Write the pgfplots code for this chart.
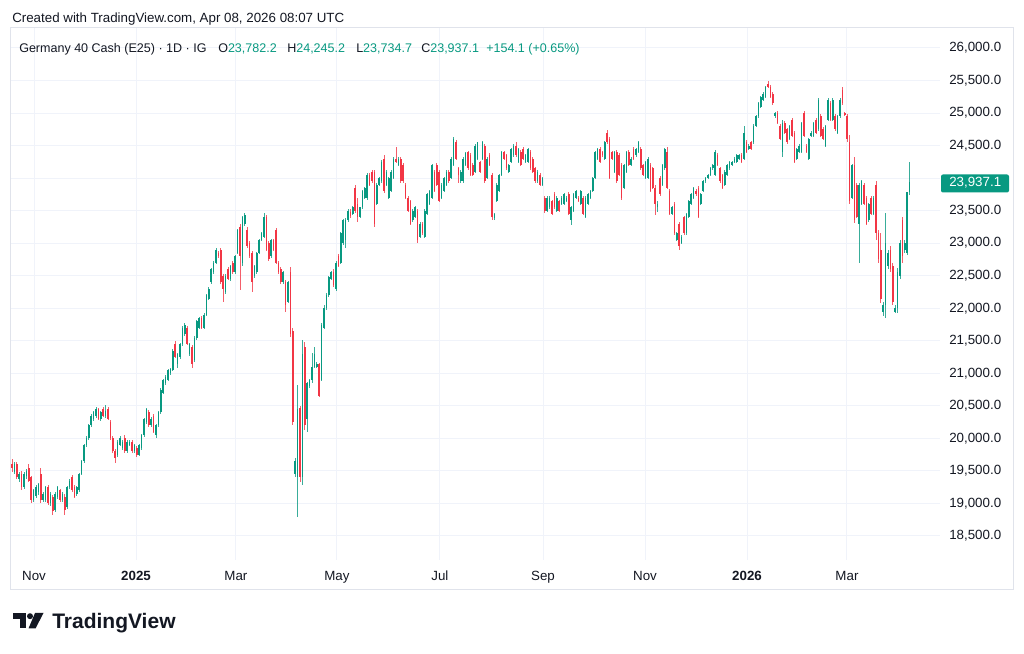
\documentclass[border=0pt]{standalone}
\usepackage{pgfplots}
\pgfplotsset{compat=1.18}
\usepackage{pgfplotstable}
\usepackage{fontspec}
\setmainfont{Liberation Sans}
\definecolor{upc}{HTML}{089981}
\definecolor{dnc}{HTML}{F23645}
\definecolor{txt}{HTML}{131722}
\definecolor{gridc}{HTML}{F0F3FA}
\definecolor{framec}{HTML}{E0E3EB}

\pgfplotstableread{
i O H L C
0 19600 19680 19480 19550
1 19480 19640 19450 19600
2 19600 19630 19380 19400
3 19380 19480 19330 19450
4 19450 19500 19200 19250
5 19250 19480 19220 19450
6 19420 19530 19380 19500
7 19550 19600 19330 19350
8 19400 19420 19000 19050
9 19060 19220 19020 19200
10 19120 19280 19080 19250
11 19170 19320 19130 19300
12 19450 19550 19000 19050
13 19060 19170 19020 19150
14 19060 19270 19030 19250
15 19250 19280 18980 19000
16 19000 19170 18960 19150
17 19100 19130 18820 18880
18 18900 19170 18870 19150
19 19100 19270 19070 19250
20 19200 19230 19020 19050
21 19050 19170 19020 19150
22 19100 19140 18820 18900
23 18950 19270 18920 19250
24 19250 19380 19220 19350
25 19400 19430 19180 19200
26 19250 19280 19080 19100
27 19150 19270 19120 19250
28 19200 19470 19180 19450
29 19450 19670 19430 19650
30 19650 19910 19620 19900
31 19900 20030 19870 20000
32 20000 20220 19980 20200
33 20200 20370 20170 20350
34 20300 20420 20270 20400
35 20350 20480 20320 20450
36 20450 20470 20280 20300
37 20300 20420 20270 20400
38 20450 20480 20330 20350
39 20350 20510 20320 20420
40 20450 20480 20280 20300
41 20250 20280 19980 20000
42 20000 20030 19780 19800
43 19800 19830 19620 19700
44 19750 19970 19720 19950
45 19900 20030 19880 20000
46 19850 19970 19820 19950
47 20000 20050 19780 19800
48 19800 19970 19770 19950
49 19900 19970 19880 19950
50 19950 19980 19770 19800
51 19800 19920 19780 19900
52 19850 19880 19720 19750
53 19750 19920 19730 19900
54 19850 20070 19820 20050
55 20050 20320 20020 20300
56 20250 20470 20220 20450
57 20400 20430 20170 20200
58 20200 20330 20170 20300
59 20350 20380 20080 20100
60 20050 20220 20000 20200
61 20200 20420 20170 20400
62 20400 20770 20380 20750
63 20700 20920 20680 20900
64 20850 20970 20820 20950
65 20900 21070 20880 21050
66 21000 21080 20980 21060
67 21050 21370 21030 21350
68 21450 21500 21230 21250
69 21150 21320 21080 21300
70 21250 21470 21220 21450
71 21450 21720 21420 21700
72 21600 21770 21570 21750
73 21700 21730 21430 21450
74 21300 21470 21270 21450
75 21400 21430 21080 21150
76 21200 21570 21170 21550
77 21550 21820 21520 21800
78 21700 21870 21680 21850
79 21850 21880 21680 21700
80 21700 21920 21680 21900
81 21900 22220 21880 22200
82 22150 22320 22120 22300
83 22400 22620 22380 22600
84 22550 22720 22530 22700
85 22700 22920 22680 22900
86 22850 22880 22780 22800
87 22900 22930 22380 22400
88 22500 22530 22100 22300
89 22250 22520 22220 22500
90 22600 22630 22430 22450
91 22450 22670 22420 22650
92 22700 22730 22530 22550
93 22550 22820 22520 22800
94 22850 23220 22830 23200
95 23250 23300 22280 22800
96 22700 23420 22650 23400
97 23300 23460 23270 23430
98 23200 23250 22930 22950
99 23000 23030 22780 22800
100 22850 22880 22250 22400
101 22500 22670 22470 22650
102 22550 22870 22530 22850
103 22850 23070 22830 23050
104 23050 23170 23030 23150
105 23100 23460 23080 23400
106 23400 23430 22880 22900
107 23000 23030 22730 22750
108 22800 23070 22780 23050
109 23050 23070 22880 22900
110 23200 23230 22680 22700
111 22700 22730 22530 22550
112 22600 22630 22380 22400
113 22400 22570 22380 22550
114 22400 22430 21950 22050
115 22100 22420 22080 22400
116 22550 22630 21560 21600
117 21650 21700 20200 20250
118 19450 19700 19400 19650
119 19400 20820 18790 20450
120 20470 20500 19330 19400
121 19400 21510 19290 21300
122 21400 21480 20130 20200
123 20300 20870 20100 20850
124 20800 20920 20780 20900
125 20900 21310 20850 21100
126 21100 21400 21080 21300
127 21100 21180 21080 21150
128 21150 21160 20640 20650
129 20900 21770 20880 21750
130 21700 22050 21680 22000
131 22000 22230 21980 22200
132 22200 22500 22180 22480
133 22450 22580 22430 22550
134 22550 22600 22330 22350
135 22300 22720 22260 22700
136 22800 22830 22630 22650
137 22700 23170 22680 23150
138 23000 23370 22980 23350
139 23050 23390 22930 23350
140 23350 23520 23330 23500
141 23480 23530 23380 23420
142 23450 23570 23430 23550
143 23850 23900 23470 23500
144 23600 23700 23330 23400
145 23400 23560 23380 23550
146 23550 23820 23520 23800
147 23700 23870 23680 23850
148 23700 24080 23660 24050
149 24050 24080 23880 23900
150 24100 24130 23930 23950
151 24100 24130 23250 23300
152 23600 23920 23580 23900
153 23900 24020 23880 24000
154 23950 24280 23930 24250
155 24300 24360 23770 23800
156 23900 24120 23880 24100
157 23700 24020 23680 24000
158 23800 24120 23780 24100
159 24000 24320 23980 24300
160 24300 24480 24230 24250
161 24200 24320 24180 24300
162 24300 24330 23930 23950
163 24200 24230 23930 23950
164 23900 23930 23680 23700
165 23700 23720 23480 23500
166 23650 23670 23280 23300
167 23350 23520 23330 23500
168 23400 23570 23380 23550
169 23500 23530 23000 23050
170 23100 23320 23080 23300
171 23300 23330 23130 23150
172 23100 23520 23080 23500
173 23450 23770 23430 23750
174 23600 23820 23580 23800
175 23700 24220 23680 24200
176 24100 24130 23780 23800
177 24200 24230 23880 23900
178 24100 24130 23630 23650
179 23700 23920 23680 23900
180 23800 24020 23780 24000
181 23900 24120 23880 24100
182 24100 24130 23930 23950
183 24000 24320 23980 24300
184 24200 24630 24180 24600
185 24550 24590 24280 24300
186 24150 24170 23920 24050
187 23950 24120 23920 24100
188 23950 24320 23930 24300
189 24200 24400 24180 24380
190 24400 24420 24130 24150
191 24350 24380 24030 24050
192 24200 24230 24030 24050
193 24100 24520 24080 24500
194 24300 24560 24280 24550
195 24250 24270 24080 24100
196 24300 24570 24280 24550
197 24500 24530 23930 23950
198 24000 24320 23980 24300
199 24350 24380 24180 24200
200 24050 24080 23360 23400
201 23380 23470 23360 23450
202 23650 23920 23630 23900
203 23800 24070 23780 24050
204 24050 24420 24030 24400
205 24400 24420 24280 24300
206 24350 24370 24130 24150
207 24100 24220 24080 24200
208 24250 24470 24230 24450
209 24350 24520 24330 24500
210 24500 24550 24330 24350
211 24250 24470 24230 24450
212 24400 24430 24180 24200
213 24450 24480 24280 24300
214 24250 24370 24230 24350
215 24250 24470 24230 24450
216 24400 24430 24130 24150
217 24300 24330 24080 24100
218 24150 24170 23930 23950
219 23950 24120 23930 24100
220 24050 24080 23880 23900
221 23900 24020 23880 24000
222 23700 23730 23460 23500
223 23500 23720 23480 23700
224 23550 23720 23530 23700
225 23650 23670 23430 23450
226 23750 23780 23530 23550
227 23500 23720 23480 23700
228 23650 23670 23480 23500
229 23600 23720 23580 23700
230 23600 23770 23580 23750
231 23650 23720 23630 23700
232 23750 23780 23430 23450
233 23350 23570 23280 23550
234 23500 23770 23480 23750
235 23700 23820 23680 23800
236 23700 23730 23630 23650
237 23600 23820 23580 23800
238 23700 23730 23430 23450
239 23400 23720 23380 23700
240 23600 23770 23580 23750
241 23700 23820 23680 23800
242 23800 24020 23780 24000
243 24000 24420 23980 24400
244 24300 24470 24280 24450
245 24450 24480 24230 24250
246 24400 24420 24330 24350
247 24300 24570 24280 24550
248 24700 24740 24530 24550
249 24600 24630 23980 24000
250 24400 24420 24280 24300
251 24100 24420 24080 24400
252 24400 24430 23930 23950
253 24350 24380 24030 24050
254 24200 24230 23660 23700
255 23850 24220 23830 24200
256 24100 24420 24080 24400
257 24400 24430 24180 24200
258 24200 24320 24180 24300
259 24450 24480 24280 24300
260 24350 24470 24330 24450
261 24400 24570 24380 24550
262 24450 24480 24130 24150
263 24200 24220 24030 24050
264 24000 24270 23980 24250
265 24000 24320 23980 24300
266 24200 24230 23780 23800
267 24150 24170 23830 23850
268 23850 23900 23430 23600
269 23550 23650 23480 23600
270 24000 24030 23730 23750
271 23900 24220 23880 24200
272 24150 24470 24130 24450
273 24400 24480 23830 23850
274 23800 23830 23430 23450
275 23450 23570 23430 23550
276 23600 23630 23130 23150
277 23050 23170 23030 23150
278 23300 23330 22900 22950
279 23000 23120 22980 23100
280 23400 23420 23120 23150
281 23150 23470 23130 23450
282 23400 23670 23380 23650
283 23600 23770 23580 23750
284 23700 23870 23680 23850
285 23800 23830 23730 23750
286 23850 23880 23380 23400
287 23600 23770 23580 23750
288 23800 23970 23780 23950
289 23950 24020 23930 24000
290 24000 24070 23980 24050
291 24050 24170 24030 24150
292 24150 24220 24130 24200
293 24050 24430 24030 24400
294 24350 24380 24180 24200
295 24150 24170 23930 23950
296 24050 24070 23830 23850
297 23900 24120 23880 24100
298 24050 24220 24030 24200
299 24150 24270 24130 24250
300 24200 24270 24180 24250
301 24250 24320 24230 24300
302 24250 24370 24230 24350
303 24300 24370 24280 24350
304 24350 24380 24230 24250
305 24300 24800 24280 24700
306 24550 24580 24380 24400
307 24450 24520 24430 24500
308 24550 24570 24430 24450
309 24550 24830 24530 24800
310 24800 24970 24780 24950
311 24950 25170 24930 25150
312 25100 25270 25080 25250
313 25200 25320 25180 25300
314 25250 25420 25230 25400
315 25450 25500 25380 25400
316 25400 25430 25230 25250
317 25300 25330 25130 25150
318 24950 25020 24930 25000
319 25000 25030 24830 24850
320 24800 24830 24580 24600
321 24400 24890 24320 24850
322 24850 24880 24680 24700
323 24750 24770 24530 24550
324 24600 24820 24580 24800
325 24900 24930 24630 24650
326 24700 24720 24230 24250
327 24300 24470 24280 24450
328 24400 24520 24380 24500
329 24400 24870 24380 24850
330 25000 25030 24630 24650
331 24500 24530 24380 24400
332 24300 24620 24280 24600
333 24650 24720 24630 24700
334 24650 24870 24630 24850
335 24900 24930 24680 24700
336 24750 25230 24730 25200
337 24950 24980 24630 24650
338 24750 24780 24580 24600
339 24500 24820 24480 24800
340 24900 25230 24880 25200
341 25150 25180 24880 24900
342 24900 25230 24880 25200
343 24950 24980 24730 24750
344 24700 24970 24680 24950
345 24950 25230 24930 25200
346 25350 25400 25130 25150
347 25000 25020 24960 24980
348 24950 24980 24550 24600
349 24550 24660 23600 23650
350 23700 24220 23680 24200
351 24200 24320 23310 23350
352 23900 23930 23380 23400
353 23300 23920 22700 23900
354 23600 23970 23580 23950
355 23900 23930 23580 23600
356 23700 23720 23280 23300
357 23350 23620 23330 23600
358 23700 23720 23430 23450
359 23450 23720 23430 23700
360 23900 23950 23050 23150
361 23150 23200 22700 22750
362 22900 23150 22080 22150
363 21950 22100 21880 22050
364 22050 23460 21850 23000
365 22650 22900 22600 22850
366 22900 22950 22550 22600
367 22650 22700 22050 22100
368 21950 22050 21930 22000
369 22000 22620 21930 22550
370 22500 23050 22450 23000
371 23350 23400 22700 22800
372 22900 23050 22850 23000
373 22850 23770 22820 23783
374 23782 24245 23735 23937
}\ohlc

\pgfplotsset{
  uponly/.style={restrict expr to domain={\thisrow{C}-\thisrow{O}}{0:100000}},
  dnonly/.style={restrict expr to domain={\thisrow{C}-\thisrow{O}}{-100000:-0.5}},
  candle/.style={draw=none, mark=none, forget plot},
}
\newcommand{\tvfont}{\fontsize{10pt}{12pt}\selectfont}
\newcommand{\lgfont}{\fontsize{9.4pt}{12pt}\selectfont}

\begin{document}
\begin{tikzpicture}
\path[use as bounding box, fill=white] (0,0) rectangle (768pt,489.75pt);
\begin{axis}[
  at={(7.5pt,69.75pt)}, anchor=south west,
  scale only axis, width=697.5pt, height=399pt,
  xmin=-0.833, xmax=386.67, ymin=18131.1, ymax=26307.4,
  axis line style={draw=none},
  major tick length=0pt,
  grid=major, major grid style={draw=gridc, line width=0.75pt},
  xtick={9.17,51.7,93.3,135.4,178.3,221.25,263.75,306.25,347.9},
  xticklabels={Nov,\textbf{2025},Mar,May,Jul,Sep,Nov,\textbf{2026},Mar},
  xticklabel style={anchor=base, yshift=-15.75pt, font=\tvfont, text=txt},
  scaled y ticks=false,
  ytick={18500,19000,...,26000},
  yticklabels={{18,500.0},{19,000.0},{19,500.0},{20,000.0},{20,500.0},{21,000.0},{21,500.0},{22,000.0},{22,500.0},{23,000.0},{23,500.0},{},{24,500.0},{25,000.0},{25,500.0},{26,000.0}},
  yticklabel pos=right,
  yticklabel style={anchor=west, xshift=6.75pt, inner sep=0pt, font=\tvfont, text=txt},
]
% wicks
\addplot[candle, uponly, error bars/.cd, y dir=both, y explicit, error mark=none,
  error bar style={draw=upc, line width=0.55pt, opacity=0.8}]
  table[x=i, y expr={(\thisrow{H}+\thisrow{L})/2}, y error expr={(\thisrow{H}-\thisrow{L})/2}] {\ohlc};
\addplot[candle, dnonly, error bars/.cd, y dir=both, y explicit, error mark=none,
  error bar style={draw=dnc, line width=0.55pt, opacity=0.8}]
  table[x=i, y expr={(\thisrow{H}+\thisrow{L})/2}, y error expr={(\thisrow{H}-\thisrow{L})/2}] {\ohlc};
% bodies
\addplot[candle, uponly, error bars/.cd, y dir=both, y explicit, error mark=none,
  error bar style={draw=upc, line width=1.3pt}]
  table[x=i, y expr={(\thisrow{O}+\thisrow{C})/2}, y error expr={max(abs(\thisrow{O}-\thisrow{C})/2,8)}] {\ohlc};
\addplot[candle, dnonly, error bars/.cd, y dir=both, y explicit, error mark=none,
  error bar style={draw=dnc, line width=1.3pt}]
  table[x=i, y expr={(\thisrow{O}+\thisrow{C})/2}, y error expr={max(abs(\thisrow{O}-\thisrow{C})/2,8)}] {\ohlc};
\end{axis}
\begin{scope}[x=0.75pt, y=-0.75pt, yshift=489.75pt]
\draw[framec, line width=0.75pt] (10,28) rectangle (1013,590);
\node[anchor=base west, inner sep=0pt, font=\tvfont, text=txt] at (12,22.7) {Created with TradingView.com, Apr 08, 2026 08:07 UTC};
\node[anchor=base west, inner sep=0pt, font=\lgfont, text=txt] at (19,52.5) {Germany 40 Cash (E25) · 1D · IG};
\node[anchor=base west, inner sep=0pt, font=\lgfont, text=txt] at (218,52.5) {O\textcolor{upc}{23,782.2}};
\node[anchor=base west, inner sep=0pt, font=\lgfont, text=txt] at (287,52.5) {H\textcolor{upc}{24,245.2}};
\node[anchor=base west, inner sep=0pt, font=\lgfont, text=txt] at (356,52.5) {L\textcolor{upc}{23,734.7}};
\node[anchor=base west, inner sep=0pt, font=\lgfont, text=txt] at (421,52.5) {C\textcolor{upc}{23,937.1}};
\node[anchor=base west, inner sep=0pt, font=\lgfont, text=upc] at (486,52.5) {+154.1 (+0.65\%)};
% price tag
\fill[upc, rounded corners=1.5pt] (941,174.5) rectangle (1009,192.5);
\node[anchor=base west, inner sep=0pt, font=\tvfont, text=white] at (949,186.8) {23,937.1};
% logo
\fill[txt] (12.7,613) rectangle (26,619);
\fill[txt] (19.5,613) rectangle (26,628.5);
\fill[txt] (30,616.2) circle (3);
\fill[txt] (35,613) -- (43.5,613) -- (35.5,628.5) -- (28.5,628.5) -- cycle;
\node[anchor=base west, inner sep=0pt, font=\fontsize{15.75pt}{18pt}\selectfont\bfseries, text=txt] at (52,629) {TradingView};
\end{scope}
\end{tikzpicture}
\end{document}
